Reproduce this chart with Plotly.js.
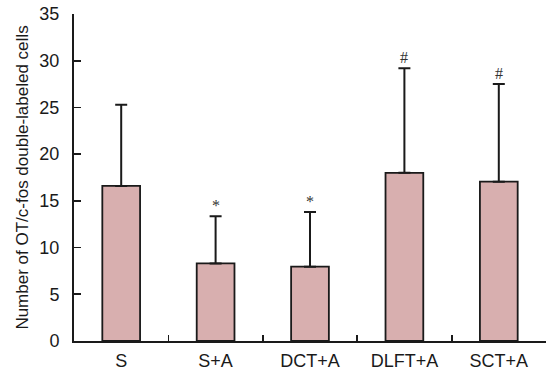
<!DOCTYPE html>
<html>
<head>
<meta charset="utf-8">
<script src="https://cdn.plot.ly/plotly-3.0.1.min.js"></script>
<style>html,body{margin:0;padding:0;background:#fff;}#chart{width:547px;height:371px;}</style>
</head>
<body>
<div id="chart"></div>
<script>
var categories = ["S", "S+A", "DCT+A", "DLFT+A", "SCT+A"];
var means = [16.6, 8.3, 7.95, 18.0, 17.05];
var errors = [8.7, 5.05, 5.85, 11.2, 10.45];
var marks = ["", "*", "*", "#", "#"];
var yTicks = [0, 5, 10, 15, 20, 25, 30, 35];

var trace = {
  type: "bar",
  x: categories,
  y: means,
  width: 0.4,
  marker: {color: "#d8afaf", line: {color: "#1a1a1a", width: 1.8}},
  error_y: {type: "data", array: errors, symmetric: false, arrayminus: means.map(function(){return 0;}), color: "#1a1a1a", thickness: 2, width: 6}
};

var annotations = [];
for (var i = 0; i < categories.length; i++) {
  if (marks[i]) {
    annotations.push({x: categories[i], y: means[i] + errors[i], xref: "x", yref: "y",
      text: marks[i], showarrow: false, yanchor: "bottom", yshift: 0,
      font: {family: "Liberation Serif, serif", size: 16, color: "#333"}});
  }
}

var layout = {
  width: 547, height: 371,
  margin: {l: 74, r: 1, t: 14, b: 30},
  paper_bgcolor: "#fff", plot_bgcolor: "#fff",
  showlegend: false,
  xaxis: {type: "category", tickson: "boundaries", ticks: "inside", ticklen: 6, tickwidth: 1.8, tickcolor: "#1a1a1a",
    showline: true, linecolor: "#1a1a1a", linewidth: 2, showgrid: false, zeroline: false,
    range: [-0.5, 4.5], ticklabelstandoff: 2,
    tickfont: {family: "Liberation Sans, Arial, sans-serif", size: 18, color: "#1a1a1a"}},
  yaxis: {range: [0, 35], tickvals: yTicks, ticks: "inside", ticklen: 7, tickwidth: 1.8, tickcolor: "#1a1a1a",
    showline: true, linecolor: "#1a1a1a", linewidth: 2, showgrid: false, zeroline: false,
    ticklabelstandoff: 9,
    tickfont: {family: "Liberation Sans, Arial, sans-serif", size: 18, color: "#1a1a1a"},
    title: {text: "Number of OT/c-fos double-labeled cells", standoff: 6,
      font: {family: "Liberation Sans, Arial, sans-serif", size: 17, color: "#1a1a1a"}}},
  annotations: annotations
};

Plotly.newPlot("chart", [trace], layout, {displayModeBar: false, staticPlot: true});
</script>
</body>
</html>
